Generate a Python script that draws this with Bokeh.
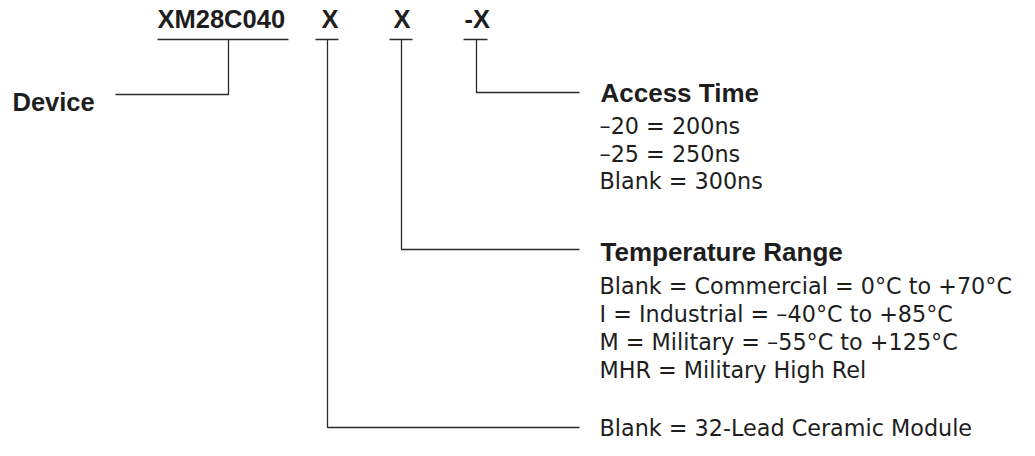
from bokeh.plotting import figure
from bokeh.models import Range1d
from bokeh.core.properties import value
from bokeh.embed import file_html
from bokeh.resources import INLINE

# ---- content ----
code_parts = ["XM28C040", "X", "X", "-X"]
device_label = "Device"
access_title = "Access Time"
access_items = ["\u201320 = 200ns", "\u201325 = 250ns", "Blank = 300ns"]
temp_title = "Temperature Range"
temp_items = [
    "Blank = Commercial = 0\u00b0C to +70\u00b0C",
    "I = Industrial = \u201340\u00b0C to +85\u00b0C",
    "M = Military = \u201355\u00b0C to +125\u00b0C",
    "MHR = Military High Rel",
]
package_items = ["Blank = 32-Lead Ceramic Module"]

# ---- layout (picture coordinates) ----
code_left = [157, 321, 393, 464]
code_mid = 18.5
ul_y = 39
ul_x0 = [157, 315, 389, 463]
ul_x1 = [288, 338, 412, 487]
stem_x = [228, 327, 401, 476]
label_x = 599
line_end = 579
LH = 27.7

BOLD = "Liberation Sans"
REG = "DejaVu Sans"
INK = "#1e1e1e"
LINE = "#2a2a2a"
BSZ = "25.5px"
TSZ = "26px"
RSZ = "22.3px"

p = figure(width=1019, height=440, x_range=Range1d(0, 1019), y_range=Range1d(440, 0),
           output_backend="svg", toolbar_location=None, min_border=0)
p.axis.visible = False
p.grid.visible = False
p.outline_line_color = None
p.background_fill_color = "white"

def label(xs, ys, texts, font, size, bold=False):
    p.text(x=xs, y=ys, text=texts, text_font=value(font),
           text_font_style="bold" if bold else "normal", text_font_size=size,
           text_color=INK, text_baseline="middle", text_align="left")

# code header
label(code_left, [code_mid] * 4, code_parts, BOLD, BSZ, True)
p.segment(x0=ul_x0, y0=[ul_y] * 4, x1=ul_x1, y1=[ul_y] * 4, line_color=LINE, line_width=1.3)

# device connector
dev_y = 94
p.line(x=[stem_x[0], stem_x[0], 115], y=[ul_y, dev_y, dev_y], line_color=LINE, line_width=1.3)
label([12], [101.5], [device_label], BOLD, BSZ, True)

# access time connector
acc_y = 92
p.line(x=[stem_x[3], stem_x[3], line_end], y=[ul_y, acc_y, acc_y], line_color=LINE, line_width=1.3)
label([label_x + 1], [92], [access_title], BOLD, TSZ, True)
label([label_x] * len(access_items), [125.5 + LH * i for i in range(len(access_items))],
      access_items, REG, RSZ)

# temperature connector
tmp_y = 249
p.line(x=[stem_x[2], stem_x[2], line_end], y=[ul_y, tmp_y, tmp_y], line_color=LINE, line_width=1.3)
label([label_x + 1], [251.5], [temp_title], BOLD, TSZ, True)
label([label_x] * len(temp_items), [285.5 + 28 * i for i in range(len(temp_items))],
      temp_items, REG, RSZ)

# package connector (kept inside the 440px drawing area)
pkg_y = 427
p.line(x=[stem_x[1], stem_x[1], line_end], y=[ul_y, pkg_y, pkg_y], line_color=LINE, line_width=1.3)
label([label_x], [427], package_items, REG, RSZ)

open("out.html", "w").write(file_html(p, INLINE))
